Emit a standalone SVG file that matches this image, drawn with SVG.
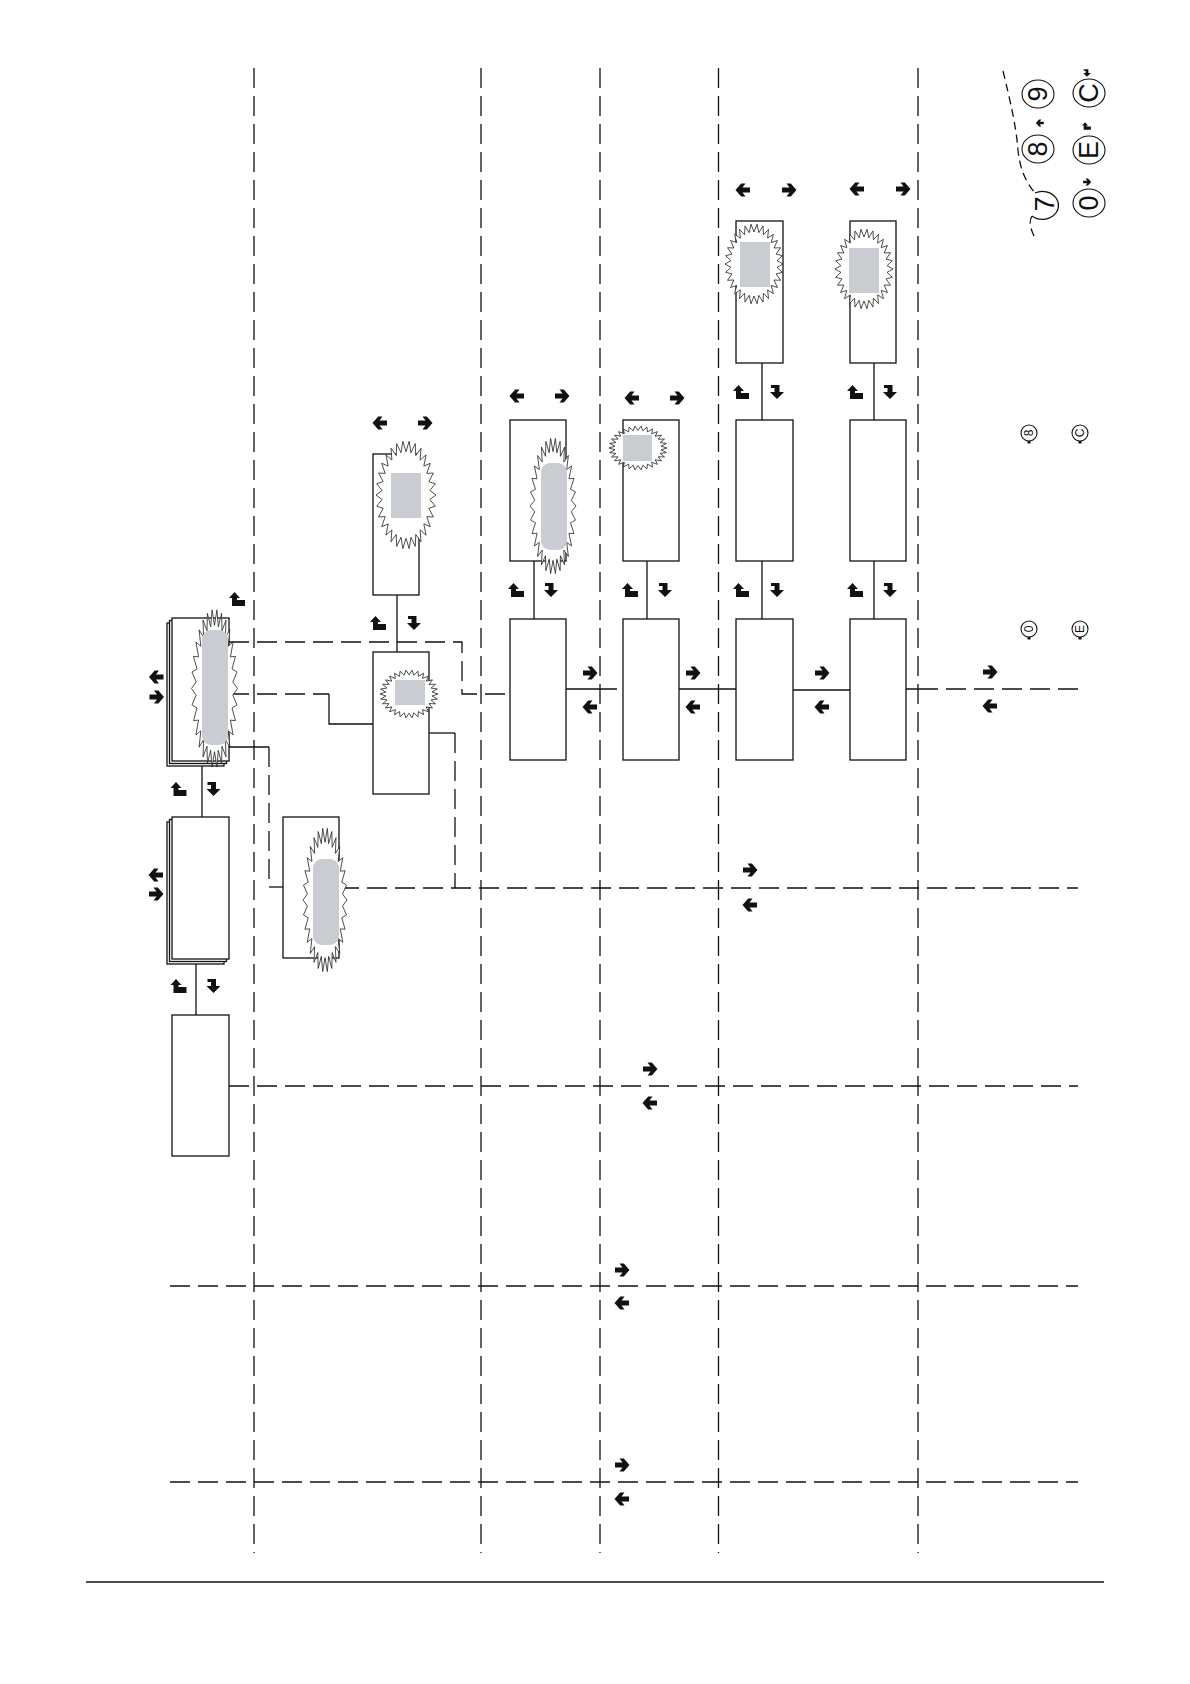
<svg xmlns="http://www.w3.org/2000/svg" xmlns:xlink="http://www.w3.org/1999/xlink" width="1190" height="1684" viewBox="0 0 1190 1684">
<style>
.bx{fill:#fff;stroke:#111;stroke-width:1.3}
.ln{fill:none;stroke:#111;stroke-width:1.3}
.ds{fill:none;stroke:#111;stroke-width:1.3;stroke-dasharray:20 8}
.gr{fill:#c9cdd1;stroke:none}
.ic{fill:#111}
.key{fill:#fff;stroke:#111;stroke-width:1.1}
.kt{font-family:"Liberation Sans",Arial,sans-serif;fill:#111;text-anchor:middle;dominant-baseline:central}
</style>
<defs>
<polygon id="star" fill="#fff" stroke="#222" stroke-width="0.8" vector-effect="non-scaling-stroke" points="1,0 .7956,.0836 .9781,.2079 .7608,.2472 .9135,.4067 .6928,.4 .809,.5878 .5945,.5353 .6691,.7431 .4702,.6472 .5,.866 .3254,.7308 .309,.9511 .1663,.7825 .1045,.9945 0,.8 -.1045,.9945 -.1663,.7825 -.309,.9511 -.3254,.7308 -.5,.866 -.4702,.6472 -.6691,.7431 -.5945,.5353 -.809,.5878 -.6928,.4 -.9135,.4067 -.7608,.2472 -.9781,.2079 -.7956,.0836 -1,0 -.7956,-.0836 -.9781,-.2079 -.7608,-.2472 -.9135,-.4067 -.6928,-.4 -.809,-.5878 -.5945,-.5353 -.6691,-.7431 -.4702,-.6472 -.5,-.866 -.3254,-.7308 -.309,-.9511 -.1663,-.7825 -.1045,-.9945 0,-.8 .1045,-.9945 .1663,-.7825 .309,-.9511 .3254,-.7308 .5,-.866 .4702,-.6472 .6691,-.7431 .5945,-.5353 .809,-.5878 .6928,-.4 .9135,-.4067 .7608,-.2472 .9781,-.2079 .7956,-.0836"/>
<path id="aR" class="ic" d="M-7,-2.4 H0.5 L-2.5,-6.5 H1.8 L7.5,0 L1.8,6.5 H-2.5 L0.5,2.4 H-7 Z"/>
<path id="aL" class="ic" d="M7,-2.4 H-0.5 L2.5,-6.5 H-1.8 L-7.5,0 L-1.8,6.5 H2.5 L-0.5,2.4 H7 Z"/>
<path id="aUp" class="ic" d="M-6,7 V-1 H-9 L-3.5,-7 L2,-1 H-1 V1 H7 V7 Z"/>
<path id="aDn" class="ic" d="M-6,-7 H2.5 V0 H7 L0,7 L-7,0 H-2.5 V-4 H-6 Z"/>
</defs>
<rect width="1190" height="1684" fill="#fff"/>

<g id="grid">
<path class="ds" d="M254,68 V1553 M481,68 V1553 M600,68 V1553 M718.5,68 V1553 M918,68 V1553"/>
<path class="ds" d="M918,689 H1078 M339,888 H1078 M229,1086 H1078 M170,1286 H1078 M170,1482 H1078"/>
<path class="ln" d="M86,1582 H1104"/>
</g>

<g id="connectors">
<path class="ln" d="M196,964 V1015 M202,766 V817 M397,595 V652 M534,561 V619 M647,561 V619 M762,561 V619 M874,561 V619 M762,363 V420 M874,363 V420"/>
<path class="ln" d="M566,689 H617 M677,689 H736 M793,690 H850 M905,689 H918"/>
<path class="ds" d="M229,642 H462 V694 H509"/>
<path class="ds" d="M229,694 H329"/>
<path class="ln" d="M329,694 V724 H373"/>
<path class="ln" d="M229,747 H269"/>
<path class="ds" d="M269,747 V887"/>
<path class="ln" d="M269,887 H283"/>
<path class="ln" d="M429,733 H455"/>
<path class="ds" d="M455,733 V888"/>
</g>

<g id="nA"><rect class="bx" x="172" y="1015" width="57" height="141"/></g>
<g id="nB">
<rect class="bx" x="167" y="822" width="57" height="142"/>
<rect class="bx" x="169.5" y="819.5" width="57" height="142"/>
<rect class="bx" x="172" y="817" width="57" height="142"/>
</g>
<g id="nC">
<rect class="bx" x="167" y="623" width="57" height="143"/>
<rect class="bx" x="169.5" y="620.5" width="57" height="143"/>
<rect class="bx" x="172" y="618" width="57" height="143"/>
<use href="#star" xlink:href="#star" transform="translate(214.5 688.5) scale(23 79)"/>
<rect class="gr" x="202" y="630" width="26" height="115" rx="9"/>
</g>
<g id="nG">
<rect class="bx" x="373" y="454" width="46" height="141"/>
<use href="#star" xlink:href="#star" transform="translate(406 495) scale(30 54)"/>
<rect class="gr" x="391" y="473" width="30" height="45"/>
</g>
<g id="nE">
<rect class="bx" x="373" y="652" width="56" height="142"/>
<use href="#star" xlink:href="#star" transform="translate(409 694) scale(29 24)"/>
<rect class="gr" x="395" y="680" width="30" height="25"/>
</g>
<g id="nF">
<rect class="bx" x="283" y="817" width="56" height="141"/>
<use href="#star" xlink:href="#star" transform="translate(325 900) scale(22 72)"/>
<rect class="gr" x="313" y="859" width="26" height="86" rx="9"/>
</g>
<g id="nD"><rect class="bx" x="510" y="619" width="56" height="141"/></g>
<g id="nH"><rect class="bx" x="623" y="619" width="56" height="141"/></g>
<g id="nI"><rect class="bx" x="736" y="619" width="57" height="141"/></g>
<g id="nJ"><rect class="bx" x="850" y="619" width="56" height="141"/></g>
<g id="nD2">
<rect class="bx" x="510" y="420" width="56" height="141"/>
<use href="#star" xlink:href="#star" transform="translate(553 506) scale(23 68)"/>
<rect class="gr" x="541" y="463" width="26" height="87" rx="9"/>
</g>
<g id="nH2">
<rect class="bx" x="623" y="420" width="56" height="141"/>
<use href="#star" xlink:href="#star" transform="translate(638 448) scale(29 22)"/>
<rect class="gr" x="623" y="435" width="29" height="26"/>
</g>
<g id="nI2"><rect class="bx" x="736" y="420" width="57" height="141"/></g>
<g id="nJ2"><rect class="bx" x="850" y="420" width="56" height="141"/></g>
<g id="nI3">
<rect class="bx" x="736" y="221" width="47" height="142"/>
<use href="#star" xlink:href="#star" transform="translate(754 264) scale(29 40)"/>
<rect class="gr" x="740" y="242" width="30" height="45"/>
</g>
<g id="nJ3">
<rect class="bx" x="850" y="221" width="46" height="142"/>
<use href="#star" xlink:href="#star" transform="translate(864 269) scale(29 40)"/>
<rect class="gr" x="849" y="248" width="30" height="45"/>
</g>

<g id="arrows">
<use href="#aL" xlink:href="#aL" x="156.5" y="677"/><use href="#aR" xlink:href="#aR" x="156.5" y="697"/>
<use href="#aL" xlink:href="#aL" x="156" y="875"/><use href="#aR" xlink:href="#aR" x="156" y="894"/>
<use href="#aUp" xlink:href="#aUp" x="238" y="599"/>
<use href="#aUp" xlink:href="#aUp" x="179.5" y="789"/><use href="#aDn" xlink:href="#aDn" x="213.5" y="789"/>
<use href="#aUp" xlink:href="#aUp" x="179.5" y="986"/><use href="#aDn" xlink:href="#aDn" x="213.5" y="986"/>
<use href="#aL" xlink:href="#aL" x="380" y="423"/><use href="#aR" xlink:href="#aR" x="425" y="423"/>
<use href="#aUp" xlink:href="#aUp" x="379" y="623"/><use href="#aDn" xlink:href="#aDn" x="414" y="623"/>
<use href="#aL" xlink:href="#aL" x="517" y="396"/><use href="#aR" xlink:href="#aR" x="562" y="396"/>
<use href="#aL" xlink:href="#aL" x="632" y="398"/><use href="#aR" xlink:href="#aR" x="677" y="398"/>
<use href="#aUp" xlink:href="#aUp" x="517" y="590"/><use href="#aDn" xlink:href="#aDn" x="551" y="590"/>
<use href="#aUp" xlink:href="#aUp" x="631" y="590"/><use href="#aDn" xlink:href="#aDn" x="665" y="590"/>
<use href="#aUp" xlink:href="#aUp" x="742" y="590"/><use href="#aDn" xlink:href="#aDn" x="777" y="590"/>
<use href="#aUp" xlink:href="#aUp" x="856" y="590"/><use href="#aDn" xlink:href="#aDn" x="890" y="590"/>
<use href="#aUp" xlink:href="#aUp" x="742" y="392"/><use href="#aDn" xlink:href="#aDn" x="777" y="392"/>
<use href="#aUp" xlink:href="#aUp" x="856" y="392"/><use href="#aDn" xlink:href="#aDn" x="890" y="392"/>
<use href="#aL" xlink:href="#aL" x="743" y="190"/><use href="#aR" xlink:href="#aR" x="789" y="190"/>
<use href="#aL" xlink:href="#aL" x="857" y="189"/><use href="#aR" xlink:href="#aR" x="903" y="189"/>
<use href="#aR" xlink:href="#aR" x="590" y="673"/><use href="#aL" xlink:href="#aL" x="590" y="707"/>
<use href="#aR" xlink:href="#aR" x="693" y="673"/><use href="#aL" xlink:href="#aL" x="693" y="707"/>
<use href="#aR" xlink:href="#aR" x="822" y="673"/><use href="#aL" xlink:href="#aL" x="822" y="707"/>
<use href="#aR" xlink:href="#aR" x="990" y="672"/><use href="#aL" xlink:href="#aL" x="990" y="706"/>
<use href="#aR" xlink:href="#aR" x="750" y="870"/><use href="#aL" xlink:href="#aL" x="750" y="905"/>
<use href="#aR" xlink:href="#aR" x="650" y="1069"/><use href="#aL" xlink:href="#aL" x="650" y="1103"/>
<use href="#aR" xlink:href="#aR" x="622" y="1270"/><use href="#aL" xlink:href="#aL" x="622" y="1303"/>
<use href="#aR" xlink:href="#aR" x="622" y="1465"/><use href="#aL" xlink:href="#aL" x="622" y="1499"/>
</g>

<g id="keypad">
<path class="ds" style="stroke-dasharray:8 5" d="M1003,71 C1010,100 1016,125 1018,150 C1020,170 1026,182 1035,193"/>
<path class="ds" style="stroke-dasharray:8 5" d="M1032,216 C1028,222 1031,230 1035,238"/>
<path class="ln" d="M1035,193 A16,14 0 1 1 1032,216"/>
<ellipse class="key" cx="1038" cy="94" rx="16" ry="14"/>
<ellipse class="key" cx="1089" cy="93" rx="16" ry="14"/>
<ellipse class="key" cx="1038" cy="149" rx="16" ry="14"/>
<ellipse class="key" cx="1089" cy="150" rx="16" ry="14"/>
<ellipse class="key" cx="1089" cy="203" rx="16" ry="14"/>
<text class="kt" font-size="27" transform="translate(1038 94) rotate(-90)">9</text>
<text class="kt" font-size="27" transform="translate(1089 93) rotate(-90)">C</text>
<text class="kt" font-size="27" transform="translate(1038 149) rotate(-90)">8</text>
<text class="kt" font-size="27" transform="translate(1089 150) rotate(-90)">E</text>
<text class="kt" font-size="27" transform="translate(1045 204) rotate(-90)">7</text>
<text class="kt" font-size="27" transform="translate(1089 203) rotate(-90)">0</text>
<use href="#aDn" xlink:href="#aDn" transform="translate(1087 73) scale(0.55)"/>
<use href="#aL" xlink:href="#aL" transform="translate(1040 123) scale(0.55)"/>
<use href="#aUp" xlink:href="#aUp" transform="translate(1087 126) scale(0.55)"/>
<use href="#aR" xlink:href="#aR" transform="translate(1087 182) scale(0.55)"/>
</g>

<g id="keys-small">
<ellipse class="key" cx="1029" cy="433" rx="8" ry="8"/>
<ellipse class="key" cx="1080" cy="433" rx="8" ry="8"/>
<ellipse class="key" cx="1029" cy="629" rx="8" ry="8"/>
<ellipse class="key" cx="1080" cy="629" rx="8" ry="8"/>
<text class="kt" font-size="12" transform="translate(1029 433) rotate(-90)">8</text>
<text class="kt" font-size="12" transform="translate(1080 433) rotate(-90)">C</text>
<text class="kt" font-size="12" transform="translate(1029 629) rotate(-90)">0</text>
<text class="kt" font-size="12" transform="translate(1080 629) rotate(-90)">E</text>
<rect class="ic" x="1027.5" y="441" width="3" height="2.5"/>
<rect class="ic" x="1078.5" y="441" width="3" height="2.5"/>
<rect class="ic" x="1027.5" y="637" width="3" height="2.5"/>
<rect class="ic" x="1078.5" y="637" width="3" height="2.5"/>
</g>
</svg>
